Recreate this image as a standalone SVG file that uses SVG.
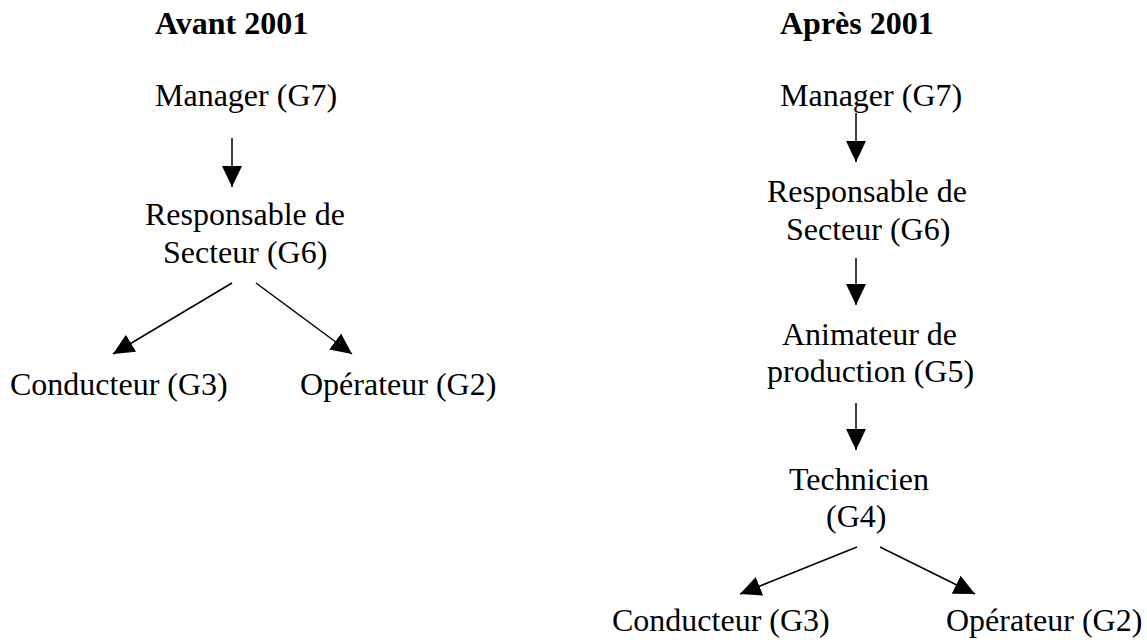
<svg xmlns="http://www.w3.org/2000/svg" width="1147" height="640" viewBox="0 0 1147 640">
<style>
text{font-family:"Liberation Serif","Times New Roman",serif;font-size:32px;fill:#000}
.h{font-weight:bold}
.c{stroke:#000;stroke-width:1.5;fill:none}
</style>
<defs>
<marker id="ah" markerUnits="userSpaceOnUse" markerWidth="22" markerHeight="22" refX="21" refY="10" orient="auto" viewBox="0 0 22 20">
<path d="M0,0 L21,10 L0,20 Z" fill="#000"/>
</marker>
</defs>
<rect width="1147" height="640" fill="#fff"/>
<g id="titles">
<text class="h" x="155" y="34">Avant 2001</text>
<text class="h" x="780" y="34">Après 2001</text>
</g>
<g id="L-manager"><text x="155" y="106">Manager (G7)</text></g>
<g id="L-responsable"><text x="145" y="225">Responsable de</text><text x="163" y="263">Secteur (G6)</text></g>
<g id="L-conducteur"><text x="10" y="395">Conducteur (G3)</text></g>
<g id="L-operateur"><text x="300" y="395">Opérateur (G2)</text></g>
<g id="R-manager"><text x="780" y="106">Manager (G7)</text></g>
<g id="R-responsable"><text x="767" y="202">Responsable de</text><text x="786" y="240">Secteur (G6)</text></g>
<g id="R-animateur"><text x="782" y="345">Animateur de</text><text x="767" y="382">production (G5)</text></g>
<g id="R-technicien"><text x="789" y="490">Technicien</text><text x="826" y="527">(G4)</text></g>
<g id="R-conducteur"><text x="612" y="631">Conducteur (G3)</text></g>
<g id="R-operateur"><text x="946" y="631">Opérateur (G2)</text></g>
<g id="connectors" class="c">
<line class="c" x1="232" y1="138" x2="232" y2="187" marker-end="url(#ah)"/>
<line class="c" x1="232" y1="283" x2="113" y2="354" marker-end="url(#ah)"/>
<line class="c" x1="256" y1="283" x2="352" y2="354" marker-end="url(#ah)"/>
<line class="c" x1="856" y1="113" x2="856" y2="162" marker-end="url(#ah)"/>
<line class="c" x1="856" y1="258" x2="856" y2="305" marker-end="url(#ah)"/>
<line class="c" x1="856" y1="403" x2="856" y2="450" marker-end="url(#ah)"/>
<line class="c" x1="857" y1="547" x2="740" y2="594" marker-end="url(#ah)"/>
<line class="c" x1="880" y1="547" x2="975" y2="594" marker-end="url(#ah)"/>
</g>
</svg>
